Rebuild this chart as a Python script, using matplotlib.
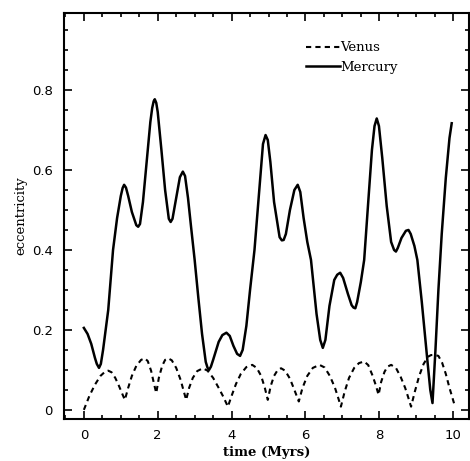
import numpy as np
import matplotlib
matplotlib.use('Agg')
import matplotlib.pyplot as plt
from matplotlib.ticker import MultipleLocator

# Mercury eccentricity
t_mercury = [0.00, 0.10, 0.20, 0.30, 0.35, 0.41, 0.46, 0.52, 0.66, 0.79, 0.90,
             1.00, 1.05, 1.09, 1.14, 1.20, 1.30, 1.42, 1.47, 1.52, 1.60, 1.70,
             1.80, 1.85, 1.89, 1.92, 1.96, 2.00, 2.10, 2.20, 2.30, 2.35, 2.40,
             2.50, 2.60, 2.68, 2.74, 2.82, 2.90, 3.00, 3.10, 3.20, 3.30, 3.35,
             3.39, 3.44, 3.50, 3.65, 3.75, 3.86, 3.95, 4.05, 4.15, 4.23, 4.30,
             4.40, 4.50, 4.62, 4.75, 4.85, 4.92, 4.98, 5.05, 5.15, 5.30, 5.36,
             5.41, 5.47, 5.58, 5.70, 5.79, 5.86, 5.95, 6.05, 6.15, 6.30, 6.40,
             6.47, 6.54, 6.65, 6.78, 6.86, 6.94, 7.02, 7.15, 7.25, 7.30, 7.35,
             7.40, 7.50, 7.59, 7.70, 7.80, 7.87, 7.93, 7.99, 8.08, 8.20, 8.32,
             8.40, 8.45, 8.50, 8.60, 8.72, 8.79, 8.85, 8.95, 9.03, 9.15, 9.30,
             9.38, 9.44, 9.52, 9.60, 9.69, 9.80, 9.90, 9.96]
e_mercury = [0.205, 0.19, 0.165, 0.13, 0.115, 0.105, 0.115, 0.15, 0.25, 0.40, 0.48,
             0.535, 0.555, 0.563, 0.556, 0.535, 0.495, 0.462, 0.458, 0.465, 0.52, 0.62,
             0.72, 0.755, 0.772, 0.777, 0.768, 0.745, 0.65, 0.55, 0.478, 0.47, 0.478,
             0.53, 0.582, 0.596, 0.585, 0.53, 0.46, 0.375, 0.28, 0.19, 0.12, 0.105,
             0.10, 0.108, 0.125, 0.17, 0.187, 0.193, 0.185, 0.16, 0.14, 0.135, 0.15,
             0.21, 0.30, 0.40, 0.55, 0.665, 0.6875, 0.675, 0.62, 0.52, 0.432, 0.424,
             0.425, 0.44, 0.50, 0.55, 0.563, 0.545, 0.48, 0.42, 0.375, 0.24, 0.175,
             0.155, 0.175, 0.26, 0.325, 0.338, 0.343, 0.33, 0.29, 0.262, 0.256, 0.254,
             0.27, 0.32, 0.375, 0.52, 0.65, 0.71, 0.729, 0.71, 0.63, 0.51, 0.42,
             0.40, 0.396, 0.405, 0.43, 0.448, 0.45, 0.44, 0.41, 0.375, 0.27, 0.125,
             0.05, 0.017, 0.15, 0.30, 0.44, 0.58, 0.68, 0.717]

# Venus eccentricity
t_venus = [0.00, 0.15, 0.30, 0.45, 0.58, 0.66, 0.75, 0.85, 0.95, 1.04, 1.11,
           1.20, 1.30, 1.42, 1.55, 1.65, 1.73, 1.82, 1.90, 1.96,
           2.03, 2.12, 2.20, 2.28, 2.38, 2.50, 2.62, 2.70, 2.77,
           2.85, 2.95, 3.07, 3.22, 3.35, 3.50, 3.65, 3.78, 3.90,
           4.00, 4.12, 4.25, 4.40, 4.56, 4.68, 4.80, 4.90, 4.98,
           5.06, 5.15, 5.25, 5.34, 5.45, 5.58, 5.70, 5.82,
           5.92, 6.05, 6.20, 6.38, 6.52, 6.66, 6.80, 6.88, 6.96,
           7.06, 7.18, 7.32, 7.45, 7.59, 7.70, 7.82, 7.91, 7.98,
           8.05, 8.14, 8.22, 8.32, 8.45, 8.58, 8.70, 8.78, 8.86,
           8.96, 9.08, 9.20, 9.32, 9.40, 9.49, 9.60, 9.70, 9.80, 9.90, 9.98, 10.05]
e_venus = [0.000, 0.035, 0.063, 0.085, 0.096, 0.098, 0.094, 0.080, 0.060, 0.040, 0.025,
           0.055, 0.085, 0.110, 0.125, 0.129, 0.122, 0.098, 0.065, 0.042,
           0.080, 0.110, 0.125, 0.129, 0.124, 0.105, 0.075, 0.048, 0.025,
           0.055, 0.080, 0.097, 0.104, 0.098, 0.080, 0.055, 0.032, 0.008,
           0.035, 0.065, 0.090, 0.107, 0.1125, 0.105, 0.085, 0.055, 0.025,
           0.060, 0.085, 0.100, 0.104, 0.098, 0.078, 0.050, 0.021,
           0.055, 0.085, 0.105, 0.1125, 0.106, 0.085, 0.055, 0.032, 0.008,
           0.045, 0.080, 0.105, 0.117, 0.121, 0.112, 0.085, 0.060, 0.0375,
           0.070, 0.095, 0.108, 0.1125, 0.105, 0.082, 0.055, 0.032, 0.008,
           0.045, 0.085, 0.115, 0.133, 0.137, 0.1375, 0.135, 0.118, 0.090, 0.055, 0.030, 0.008]

fig = plt.figure(figsize=(4.70, 4.61), dpi=100)
ax = fig.add_axes([0.136, 0.091, 0.862, 0.881])

ax.plot(t_venus, e_venus, color='black', lw=1.5, ls=(0, (2.5, 2)), label='Venus')
ax.plot(t_mercury, e_mercury, color='black', lw=1.8, label='Mercury')

ax.set_xlim(-0.54, 10.43)
ax.set_ylim(-0.023, 0.993)

ax.xaxis.set_minor_locator(MultipleLocator(0.5))
ax.yaxis.set_minor_locator(MultipleLocator(0.05))
ax.set_yticks([0, 0.2, 0.4, 0.6, 0.8])
ax.set_yticklabels(['0', '0.2', '0.4', '0.6', '0.8'])
ax.set_xticks([0, 2, 4, 6, 8, 10])
ax.set_xticklabels(['0', '2', '4', '6', '8', '10'])

ax.tick_params(which='both', direction='in', top=True, right=True, width=1.2)
ax.tick_params(which='major', length=6, labelsize=9.5)
ax.tick_params(axis='y', which='major', pad=8)
ax.tick_params(axis='x', which='major', pad=7)
ax.tick_params(which='minor', length=3)
for s in ax.spines.values():
    s.set_linewidth(1.5)

ax.set_xlabel('time (Myrs)', family='DejaVu Serif', fontsize=9.5, fontweight='bold', labelpad=3)
ax.set_ylabel('eccentricity', family='DejaVu Serif', fontsize=9.5, labelpad=3)

leg = ax.legend(loc='upper left', bbox_to_anchor=(0.598, 0.93), frameon=False,
                borderpad=0, borderaxespad=0,
                handlelength=2.6, handletextpad=0.0, labelspacing=0.5,
                prop={'family': 'DejaVu Serif', 'size': 9.5})

fig.savefig('out.png', dpi=100)
